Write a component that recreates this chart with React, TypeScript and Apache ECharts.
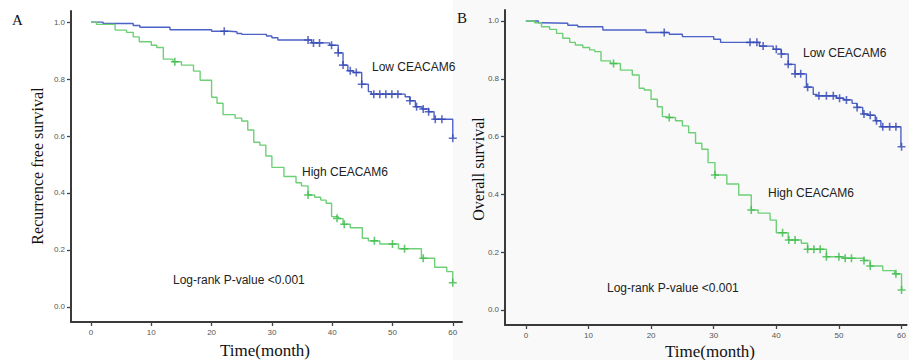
import React, { useEffect, useRef } from "react";
import * as echarts from "echarts";

// Panel A: Recurrence free survival
const aLowSteps: [number, number][] = [
  [0, 1], [2, 0.995], [7, 0.988], [8.1, 0.982], [13.1, 0.973], [20, 0.968], [23, 0.966], [24.2, 0.96],
  [25, 0.957], [29.1, 0.951], [30, 0.945], [31, 0.937], [36.6, 0.927], [39.6, 0.919], [41, 0.892],
  [41.8, 0.849], [42.6, 0.829], [43.5, 0.823], [44.9, 0.782], [46, 0.756], [46.5, 0.747], [52.1, 0.738],
  [52.9, 0.724], [53.8, 0.703], [54.9, 0.695], [56, 0.685], [56.9, 0.659], [60, 0.592],
];
const aLowCensor: [number, number][] = [
  [22.1, 0.968], [36, 0.937], [36.9, 0.927], [37.9, 0.927], [39.9, 0.919], [41, 0.892], [41.8, 0.849],
  [43, 0.829], [44, 0.823], [44.9, 0.782], [46.9, 0.747], [47.9, 0.747], [48.9, 0.747], [49.9, 0.747],
  [50.9, 0.747], [52.9, 0.724], [54, 0.703], [55.1, 0.695], [56, 0.685], [57.1, 0.659], [58.2, 0.659], [60, 0.592],
];
const aHighSteps: [number, number][] = [
  [0, 1], [0.9, 0.992], [4, 0.972], [5.9, 0.964], [7, 0.948], [8, 0.931], [10, 0.919], [10.9, 0.911],
  [12, 0.87], [13.6, 0.861], [15, 0.849], [17, 0.828], [18.1, 0.796], [20, 0.736], [20.9, 0.715],
  [21.9, 0.675], [23.9, 0.663], [25, 0.653], [26, 0.621], [27, 0.578], [28, 0.568], [29, 0.53], [30, 0.49],
  [32, 0.458], [34, 0.436], [34.9, 0.425], [36, 0.393], [37.1, 0.385], [38.1, 0.375], [39, 0.364],
  [39.9, 0.317], [41, 0.31], [41.8, 0.29], [43, 0.278], [45, 0.241], [46, 0.232], [47.9, 0.221],
  [51, 0.204], [54.8, 0.171], [57, 0.139], [59, 0.124], [60, 0.085],
];
const aHighCensor: [number, number][] = [
  [13.9, 0.861], [36, 0.393], [40.8, 0.311], [42, 0.29], [47, 0.232], [50, 0.221], [52, 0.204], [55.1, 0.171], [60, 0.085],
];

// Panel B: Overall survival
const bLowSteps: [number, number][] = [
  [0, 1], [2, 0.994], [2.5, 0.992], [6.7, 0.985], [8.3, 0.98], [12.3, 0.969], [19.2, 0.96], [22.9, 0.954],
  [25, 0.946], [30, 0.937], [31.1, 0.926], [37.3, 0.913], [39.5, 0.902], [40.8, 0.886], [41.9, 0.85],
  [43, 0.817], [44.8, 0.771], [45.9, 0.746], [46.5, 0.741], [49.6, 0.733], [50.8, 0.727], [52.1, 0.715],
  [52.9, 0.701], [53.8, 0.678], [54.7, 0.674], [55.8, 0.655], [56.7, 0.634], [59.9, 0.565],
];
const bLowCensor: [number, number][] = [
  [22.1, 0.96], [35.8, 0.926], [36.9, 0.926], [37.9, 0.913], [40, 0.902], [40.8, 0.886], [41.9, 0.85],
  [43, 0.817], [43.9, 0.817], [45, 0.771], [46.8, 0.741], [48, 0.741], [49.1, 0.741], [50.1, 0.733],
  [51.2, 0.727], [52.9, 0.701], [54, 0.678], [55, 0.674], [56, 0.655], [57, 0.634], [58.1, 0.634],
  [59.1, 0.634], [60, 0.565],
];
const bHighSteps: [number, number][] = [
  [0, 1], [1.4, 0.994], [2.5, 0.98], [3.8, 0.971], [4.9, 0.957], [5.9, 0.94], [7, 0.926], [7.9, 0.917],
  [9.1, 0.908], [10.2, 0.9], [11, 0.894], [12, 0.862], [13.5, 0.853], [15.1, 0.83], [17, 0.813],
  [18.1, 0.767], [18.9, 0.761], [20, 0.729], [21, 0.703], [21.8, 0.669], [22.5, 0.666], [23.9, 0.655],
  [25, 0.637], [26, 0.613], [27.1, 0.577], [28.1, 0.556], [29.1, 0.51], [30.2, 0.467], [32.1, 0.436],
  [34, 0.398], [36, 0.346], [37.1, 0.335], [39, 0.311], [40, 0.267], [41.9, 0.242], [44, 0.231],
  [45, 0.21], [48, 0.184], [50.8, 0.179], [54, 0.171], [55, 0.152], [57, 0.136], [58.9, 0.125], [60, 0.069],
];
const bHighCensor: [number, number][] = [
  [14, 0.853], [22.9, 0.666], [30.2, 0.467], [36, 0.346], [41, 0.267], [42, 0.242], [43, 0.242],
  [45, 0.21], [46, 0.21], [47, 0.21], [48, 0.184], [50, 0.184], [51, 0.179], [52, 0.179], [54, 0.171],
  [55, 0.152], [59.1, 0.125], [60, 0.069],
];

const xTicks = [0, 10, 20, 30, 40, 50, 60];
const yTicks = [0, 0.2, 0.4, 0.6, 0.8, 1.0];

const panelLabels = ["A", "B"];
const yTitles = ["Recurrence free survival", "Overall survival"];
const xTitle = "Time(month)";
const lowLabel = "Low CEACAM6";
const highLabel = "High CEACAM6";
const pLabel = "Log-rank P-value <0.001";

const BLUE = "#4d62c6";
const BLUE_MARK = "#3449b5";
const GREEN = "#6dd077";
const GREEN_MARK = "#3dbb4b";
const PLUS = "path://M4,0L6,0L6,4L10,4L10,6L6,6L6,10L4,10L4,6L0,6L0,4L4,4Z";

export default function App() {
  const ref = useRef<HTMLDivElement>(null);
  useEffect(() => {
    if (!ref.current) return;
    const chart = echarts.init(ref.current, null, { renderer: "svg" });

    const mkX = (i: number, min: number, max: number) => ({
      type: "value" as const,
      gridIndex: i,
      min,
      max,
      axisLine: { show: true, onZero: false, lineStyle: { color: "#3a3a3a", width: 2 } },
      axisTick: { show: true, length: 4, customValues: xTicks, lineStyle: { color: "#444", width: 1.3 } },
      axisLabel: { customValues: xTicks, fontSize: 8, color: "#555", fontFamily: "Liberation Sans, Arial", margin: 6 },
      splitLine: { show: false },
    });
    const mkY = (i: number, min: number, max: number) => ({
      type: "value" as const,
      gridIndex: i,
      min,
      max,
      axisLine: { show: true, onZero: false, lineStyle: { color: "#3a3a3a", width: 2 } },
      axisTick: { show: true, length: 4, customValues: yTicks, lineStyle: { color: "#444", width: 1.3 } },
      axisLabel: {
        customValues: yTicks,
        fontSize: 8,
        color: "#555",
        fontFamily: "Liberation Sans, Arial",
        margin: 6,
        formatter: (v: number) => v.toFixed(1),
      },
      splitLine: { show: false },
    });
    const stepLine = (i: number, data: [number, number][], color: string) => ({
      type: "line" as const,
      xAxisIndex: i,
      yAxisIndex: i,
      step: "end" as const,
      data,
      showSymbol: false,
      symbol: "none",
      lineStyle: { color, width: 1.4 },
      z: 2,
    });
    const censor = (i: number, data: [number, number][], color: string) => ({
      type: "scatter" as const,
      xAxisIndex: i,
      yAxisIndex: i,
      data,
      symbol: PLUS,
      symbolSize: 8,
      itemStyle: { color },
      clip: false,
      z: 3,
    });

    const serifFont = "16px 'Liberation Serif', 'Times New Roman', serif";
    const sansFont = "12px 'Liberation Sans', Arial, sans-serif";
    const txt = (x: number, y: number, text: string, font: string, align = "left", rotation = 0, fill = "#222") => ({
      type: "text" as const,
      x,
      y,
      rotation,
      silent: true,
      style: { text, font, fill, align, verticalAlign: "middle" },
      z: 10,
    });

    chart.setOption({
      animation: false,
      backgroundColor: "#ffffff",
      grid: [
        { left: 71, top: 11, width: 391, height: 311 },
        { left: 505, top: 10, width: 404, height: 315 },
      ],
      xAxis: [mkX(0, -3.317, 61.53), mkX(1, -3.33, 60.8)],
      yAxis: [mkY(0, -0.053, 1.039), mkY(1, -0.052, 1.038)],
      series: [
        stepLine(0, aLowSteps, BLUE),
        stepLine(0, aHighSteps, GREEN),
        censor(0, aLowCensor, BLUE_MARK),
        censor(0, aHighCensor, GREEN_MARK),
        stepLine(1, bLowSteps, BLUE),
        stepLine(1, bHighSteps, GREEN),
        censor(1, bLowCensor, BLUE_MARK),
        censor(1, bHighCensor, GREEN_MARK),
      ],
      graphic: [
        { type: "rect", shape: { x: 453, y: 0, width: 456, height: 360 }, style: { fill: "#f9f9f9" }, z: -10, silent: true },
        txt(12, 20, panelLabels[0], "15px 'Liberation Serif', serif", "left", 0, "#111"),
        txt(457, 18, panelLabels[1], "15px 'Liberation Serif', serif", "left", 0, "#111"),
        txt(37, 166, yTitles[0], serifFont, "center", Math.PI / 2, "#111"),
        txt(478, 169, yTitles[1], serifFont, "center", Math.PI / 2, "#111"),
        txt(265, 350, xTitle, "17px 'Liberation Serif', serif", "center", 0, "#111"),
        txt(710, 351, xTitle, "17px 'Liberation Serif', serif", "center", 0, "#111"),
        txt(372, 67, lowLabel, sansFont),
        txt(302, 172, highLabel, sansFont),
        txt(173, 280, pLabel, sansFont),
        txt(803, 53, lowLabel, sansFont),
        txt(768, 193, highLabel, sansFont),
        txt(607, 288, pLabel, sansFont),
      ],
    });
    return () => chart.dispose();
  }, []);
  return <div ref={ref} style={{ position: "absolute", left: 0, top: 0, width: 909, height: 360 }} />;
}
